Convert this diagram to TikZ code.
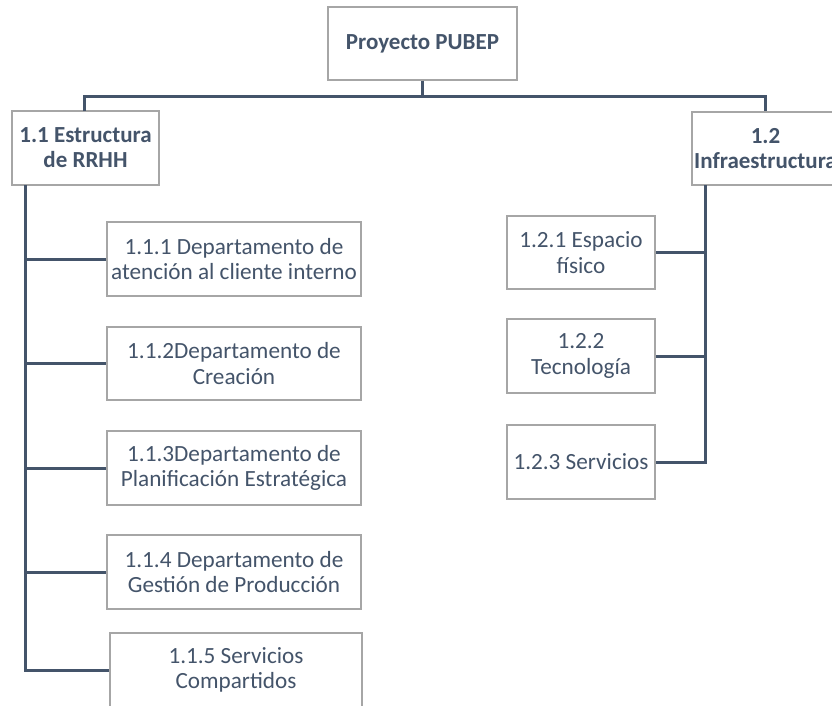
\documentclass[tikz,border=0pt]{standalone}
\usepackage{fontspec}
\setmainfont{Carlito}
\definecolor{slate}{HTML}{44546A}
\definecolor{boxgray}{HTML}{A6A6A6}
\tikzset{
  wbsbox/.style={draw=boxgray, line width=1.1pt, fill=white, text=slate, align=center,
    inner sep=0pt, font=\fontsize{23.2}{25.2}\selectfont},
  topbox/.style={wbsbox, font=\fontsize{23}{25.2}\selectfont\bfseries},
  conn/.style={draw=slate, line width=3pt}
}
\begin{document}
\begin{tikzpicture}[x=1pt,y=-1pt]
\useasboundingbox (0,0) rectangle (832,705);
\clip (0,0) rectangle (832,705);
\fill[white] (0,0) rectangle (832,705);
% nodes
\node[topbox, minimum width=189pt, minimum height=73pt] (root) at (422.5,43.5) {Proyecto PUBEP};
\node[topbox, minimum width=147pt, minimum height=74pt] (b11) at (85.5,148) {1.1 Estructura\\de RRHH};
\node[topbox, minimum width=147pt, minimum height=73pt] (b12) at (765.5,148.5) {1.2\\Infraestructura};
\node[wbsbox, minimum width=254pt, minimum height=74pt] (b111) at (234,259) {1.1.1 Departamento de\\atención al cliente interno};
\node[wbsbox, minimum width=254pt, minimum height=73pt] (b112) at (234,363.5) {1.1.2Departamento de\\Creación};
\node[wbsbox, minimum width=254pt, minimum height=74pt] (b113) at (234,468) {1.1.3Departamento de\\Planificación Estratégica};
\node[wbsbox, minimum width=254pt, minimum height=74pt] (b114) at (234,572) {1.1.4 Departamento de\\Gestión de Producción};
\node[wbsbox, minimum width=252pt, minimum height=74pt] (b115) at (236,670) {1.1.5 Servicios\\Compartidos};
\node[wbsbox, minimum width=148pt, minimum height=73pt] (b121) at (581,252.5) {1.2.1 Espacio\\físico};
\node[wbsbox, minimum width=148pt, minimum height=74pt] (b122) at (581,356) {1.2.2\\Tecnología};
\node[wbsbox, minimum width=148pt, minimum height=74pt] (b123) at (581,462) {1.2.3 Servicios};
% helper coordinates
\coordinate (bus) at (0,96);
\coordinate (t11) at (25,185);
\coordinate (t11top) at (84,111);
\coordinate (t12) at (705,185);
% connectors
\draw[conn] (root.south) -- (root.south |- bus);
\draw[conn] (t11top) -- (t11top |- bus) -- (b12.north |- bus) -- (b12.north);
\draw[conn] (t11) |- (b115.west);
\draw[conn] (t11 |- b111.west) -- (b111.west);
\draw[conn] (t11 |- b112.west) -- (b112.west);
\draw[conn] (t11 |- b113.west) -- (b113.west);
\draw[conn] (t11 |- b114.west) -- (b114.west);
\draw[conn] (t12) |- (b123.east);
\draw[conn] (t12 |- b121.east) -- (b121.east);
\draw[conn] (t12 |- b122.east) -- (b122.east);
\end{tikzpicture}
\end{document}
